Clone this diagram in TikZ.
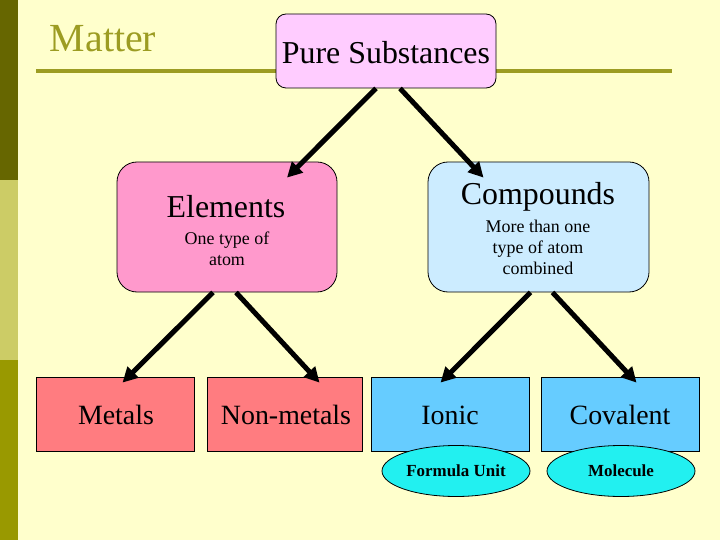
\documentclass[tikz,border=0pt]{standalone}
\usepackage{fontspec}
\setmainfont{Liberation Serif}
\newfontfamily\tnr{Liberation Serif}
\usetikzlibrary{arrows.meta,shapes.geometric}
\definecolor{bg}{HTML}{FFFFCC}
\definecolor{barA}{HTML}{666600}
\definecolor{barB}{HTML}{CCCC66}
\definecolor{barC}{HTML}{999900}
\definecolor{olive}{HTML}{9C9C22}
\definecolor{pureC}{HTML}{FFCCFF}
\definecolor{elemC}{HTML}{FF99CC}
\definecolor{compC}{HTML}{CCECFF}
\definecolor{metC}{HTML}{FF7C80}
\definecolor{ionC}{HTML}{66CCFF}
\definecolor{ellC}{HTML}{22F0F0}
\newcommand{\fsBig}{\tnr\fontsize{32}{36}\selectfont}
\newcommand{\fsMid}{\tnr\fontsize{28}{32}\selectfont}
\newcommand{\fsSmall}{\tnr\fontsize{18}{21}\selectfont}
\newcommand{\fsEll}{\tnr\fontsize{17}{19}\selectfont\bfseries}
\begin{document}
\begin{tikzpicture}[x=1bp,y=-1bp,
  box/.style={draw=black,line width=0.8bp,inner sep=0pt,anchor=center},
  leafbox/.style={box,minimum width=158bp,minimum height=74bp},
  ell/.style={draw=black,line width=0.8bp,ellipse,fill=ellC,minimum width=148bp,minimum height=51bp,inner sep=0pt},
  arr/.style={line width=5bp,-{Triangle[length=15bp,width=15bp]}},
  txt/.style={inner sep=0pt,anchor=center}]
\useasboundingbox (0,0) rectangle (720,540);
\fill[bg] (0,0) rectangle (720,540);
\fill[barA] (0,0) rectangle (18,180);
\fill[barB] (0,180) rectangle (18,360);
\fill[barC] (0,360) rectangle (18,540);
\draw[olive,line width=3.5bp] (36,71) -- (672,71);
\node[txt,text=olive,font=\tnr\fontsize{40}{44}\selectfont] (title) at (103,39) {Matter};
% boxes
\node[box,fill=pureC,rounded corners=10bp,minimum width=220bp,minimum height=74bp] (pure) at (386,51) {};
\node[txt,font=\fsBig] (pureT) at (386,53) {Pure Substances};
\node[box,fill=elemC,rounded corners=20bp,minimum width=220bp,minimum height=130bp] (elem) at (227,227) {};
\node[txt,font=\fsBig] (elemT) at (226,207) {Elements};
\node[txt,font=\fsSmall,align=center] (elemS) at (227,248.5) {One type of\\atom};
\node[box,fill=compC,rounded corners=20bp,minimum width=221bp,minimum height=130bp] (comp) at (538.5,227) {};
\node[txt,font=\fsBig] (compT) at (538,197) {Compounds};
\node[txt,font=\fsSmall,align=center] (compS) at (538,247.5) {More than one\\type of atom\\combined};
\node[leafbox,fill=metC] (met) at (115.5,414) {};
\node[txt,font=\fsMid] (metT) at (116,415) {Metals};
\node[leafbox,fill=metC,minimum width=155bp] (non) at (284.5,414) {};
\node[txt,font=\fsMid] (nonT) at (286,415) {Non-metals};
\node[leafbox,fill=ionC] (ion) at (450.5,414) {};
\node[txt,font=\fsMid] (ionT) at (450,415) {Ionic};
\node[leafbox,fill=ionC] (cov) at (620.5,414) {};
\node[txt,font=\fsMid] (covT) at (620,415) {Covalent};
\node[ell,font=\fsEll] (fu) at (456,471) {Formula Unit};
\node[ell,font=\fsEll] (mol) at (621,471) {Molecule};
% arrows
\draw[arr] ([xshift=-10bp]pure.south) -- ([xshift=60bp,yshift=-16bp]elem.north);
\draw[arr] ([xshift=14bp]pure.south) -- ([xshift=-55bp,yshift=-16bp]comp.north);
\draw[arr] ([xshift=-14bp]elem.south) -- ([xshift=7bp,yshift=-6bp]met.north);
\draw[arr] ([xshift=9bp]elem.south) -- ([xshift=35bp,yshift=-6bp]non.north);
\draw[arr] ([xshift=-8bp]comp.south) -- ([xshift=-10bp,yshift=-6bp]ion.north);
\draw[arr] ([xshift=14bp]comp.south) -- ([xshift=16bp,yshift=-6bp]cov.north);
\end{tikzpicture}
\end{document}
